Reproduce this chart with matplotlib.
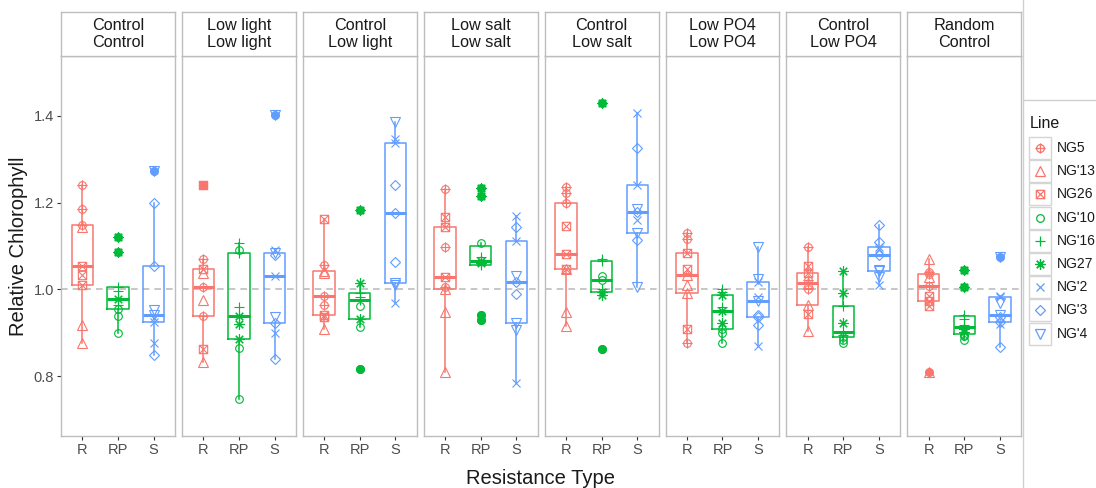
import matplotlib
matplotlib.use("Agg")
import matplotlib.pyplot as plt
from matplotlib.path import Path
from matplotlib.patches import Rectangle
from matplotlib import cbook
import numpy as np

plt.rcParams["font.family"] = ["Liberation Sans", "DejaVu Sans"]

# ---- data -----------------------------------------------------------------
FACETS = ["Control\nControl", "Low light\nLow light", "Control\nLow light",
          "Low salt\nLow salt", "Control\nLow salt", "Low PO4\nLow PO4",
          "Control\nLow PO4", "Random\nControl"]
TYPES = ["R", "RP", "S"]
LINES = ["NG5", "NG'13", "NG26", "NG'10", "NG'16", "NG27", "NG'2", "NG'3", "NG'4"]
LINE_TYPE = ["R", "R", "R", "RP", "RP", "RP", "S", "S", "S"]

# one list per line, one sub-list per facet (same order as FACETS)
NG5 = [[1.240, 1.184, 1.148], [1.069, 1.005, 0.939], [1.056, 0.985, 0.965],
       [1.230, 1.098, 1.006], [1.236, 1.221, 1.198], [1.129, 1.117, 0.876],
       [1.097, 1.021, 1.000], [1.041, 1.035, 1.008]]
NG13 = [[1.144, 0.918, 0.876], [1.037, 0.975, 0.834], [1.042, 1.038, 0.908],
        [1.000, 0.949, 0.811], [1.046, 0.949, 0.916], [1.033, 1.010, 0.993],
        [1.014, 0.964, 0.904], [1.069, 1.029, 0.811]]
NG26 = [[1.054, 1.033, 1.010], [1.240, 1.048, 0.863], [1.161, 0.942, 0.937],
        [1.167, 1.144, 1.028], [1.146, 1.081, 1.048], [1.084, 1.048, 0.908],
        [1.054, 1.038, 0.943], [0.985, 0.974, 0.962]]
NG10 = [[0.954, 0.939, 0.899], [1.090, 0.866, 0.747], [0.962, 0.914, 0.818],
        [1.108, 0.941, 0.930], [1.030, 1.021, 0.864], [0.908, 0.899, 0.876],
        [0.890, 0.884, 0.876], [0.896, 0.893, 0.884]]
NG16 = [[1.005, 0.997, 0.964], [1.106, 1.083, 0.960], [0.991, 0.983, 0.975],
        [1.075, 1.066, 1.056], [1.070, 1.066, 1.000], [1.000, 0.995, 0.960],
        [0.962, 0.903, 0.895], [0.941, 0.933, 0.918]]
NG27 = [[1.121, 1.087, 0.979], [0.939, 0.920, 0.885], [1.182, 1.016, 0.933],
        [1.234, 1.215, 1.066, 1.060], [1.428, 0.995, 0.987], [0.987, 0.950, 0.922],
        [1.043, 0.991, 0.924], [1.044, 1.006, 0.910, 0.903]]
NG2 = [[0.935, 0.926, 0.876], [1.090, 1.031, 0.899], [1.347, 1.336, 0.968],
       [1.169, 1.112, 0.784], [1.405, 1.240, 1.159], [1.018, 0.983, 0.870],
       [1.098, 1.092, 1.010], [0.985, 0.982, 0.920]]
NG3 = [[1.198, 1.054, 0.849], [1.080, 0.922, 0.841], [1.240, 1.175, 1.064],
       [1.144, 1.018, 0.989], [1.326, 1.179, 1.113], [0.941, 0.937, 0.918],
       [1.148, 1.110, 1.079], [0.937, 0.926, 0.868]]
NG4 = [[1.273, 0.952, 0.941], [1.401, 1.084, 0.937], [1.385, 1.016, 1.010],
       [1.031, 0.922, 0.907], [1.184, 1.129, 1.006], [1.097, 1.025, 0.974],
       [1.044, 1.043, 1.029], [1.075, 0.968, 0.941]]
SERIES = [NG5, NG13, NG26, NG10, NG16, NG27, NG2, NG3, NG4]

Y_TICKS = [0.8, 1.0, 1.2, 1.4]

# ---- style ----------------------------------------------------------------
TYPE_COLOR = {"R": "#F8766D", "RP": "#00BA38", "S": "#619CFF"}
BORDER = "#BDBDBD"
INK = "#333333"


def _seg(a, b):
    return Path([a, b], [Path.MOVETO, Path.LINETO])


CIRC_PLUS = Path.make_compound_path(Path.unit_circle(),
                                    _seg((-1.35, 0), (1.35, 0)),
                                    _seg((0, -1.35), (0, 1.35)))
SQ_CROSS = Path.make_compound_path(
    Path([(-1, -1), (1, -1), (1, 1), (-1, 1), (-1, -1)],
         [Path.MOVETO, Path.LINETO, Path.LINETO, Path.LINETO, Path.CLOSEPOLY]),
    _seg((-1, -1), (1, 1)), _seg((-1, 1), (1, -1)))

# marker, size (pt)
SHAPES = [(CIRC_PLUS, 7.5), ("^", 6.5), (SQ_CROSS, 6.0), ("o", 5.5), ("+", 7.5),
          ((8, 2, 0), 7.5), ("x", 5.5), ("D", 5.0), ("v", 6.5)]

W, H = 1096, 488
fig = plt.figure(figsize=(W / 100, H / 100), dpi=100)


def px_rect(x0, y0, w, h):
    return [x0 / W, 1 - (y0 + h) / H, w / W, h / H]


PANEL_TOP, PANEL_BOT = 56, 436
STRIP_TOP = 12
PANEL_W, PANEL_STEP, PANEL_X0 = 114, 120.9, 61
YLIM = (0.663, 1.537)

for i, facet in enumerate(FACETS):
    left = PANEL_X0 + i * PANEL_STEP
    ax = fig.add_axes(px_rect(left, PANEL_TOP, PANEL_W, PANEL_BOT - PANEL_TOP))
    ax.axhline(1.0, color="#BEBEBE", lw=1.2, ls=(0, (4, 3)), zorder=1)
    for j, t in enumerate(TYPES):
        col = TYPE_COLOR[t]
        idx = [k for k, lt in enumerate(LINE_TYPE) if lt == t]
        vals = np.concatenate([SERIES[k][i] for k in idx])
        ax.boxplot([vals], positions=[j + 1], widths=0.6, whis=1.5,
                   showcaps=False, showfliers=False, manage_ticks=False,
                   boxprops=dict(color=col, lw=1.1),
                   whiskerprops=dict(color=col, lw=1.1),
                   medianprops=dict(color=col, lw=2.2), zorder=2)
        fl = cbook.boxplot_stats(vals)[0]["fliers"]
        ax.plot([j + 1] * len(fl), fl, "o", color=col, ms=5.5, mec=col, zorder=3)
        for k in idx:
            m, ms = SHAPES[k]
            ax.plot([j + 1] * len(SERIES[k][i]), SERIES[k][i], ls="none",
                    marker=m, ms=ms, mfc="none", mec=col, mew=0.8, zorder=4)
    ax.set_xlim(0.4, 3.6)
    ax.set_ylim(*YLIM)
    ax.set_xticks([1, 2, 3])
    ax.set_xticklabels(TYPES)
    if i == 0:
        ax.set_yticks(Y_TICKS)
        ax.set_yticklabels([f"{v:.1f}" for v in Y_TICKS])
    else:
        ax.set_yticks([])
    ax.tick_params(length=3, width=0.8, color=INK, labelsize=10.5,
                   labelcolor="#4D4D4D", pad=2)
    for s in ax.spines.values():
        s.set_color(BORDER)
        s.set_linewidth(1.0)

    st = fig.add_axes(px_rect(left, STRIP_TOP, PANEL_W, PANEL_TOP - STRIP_TOP))
    st.set_xticks([])
    st.set_yticks([])
    for s in st.spines.values():
        s.set_color(BORDER)
        s.set_linewidth(1.0)
    st.text(0.5, 0.5, facet, ha="center", va="center", fontsize=11.7,
            color="#1A1A1A", linespacing=1.15, transform=st.transAxes)

fig.text(541 / W, 1 - 478 / H, "Resistance Type", ha="center", va="center",
         fontsize=14.5, color="#1A1A1A")
fig.text(19 / W, 1 - 246 / H, "Relative Chlorophyll", ha="center", va="center",
         rotation=90, fontsize=14.5, color="#1A1A1A")

# ---- legend, drawn in pixel space -----------------------------------------
lg = fig.add_axes([0, 0, 1, 1])
lg.set_xlim(0, W)
lg.set_ylim(H, 0)
lg.axis("off")
lg.plot([1023, 1023], [0, H], color="#D0D0D0", lw=1.0)
lg.plot([1024, W], [100, 100], color="#D0D0D0", lw=1.0)
lg.text(1030, 124, "Line", ha="left", va="center", fontsize=11.5, color="#1A1A1A")
for k, name in enumerate(LINES):
    y = 148 + k * 23.2
    lg.add_patch(Rectangle((1029, y - 11), 22, 22, facecolor="white",
                           edgecolor="#D5D5D5", lw=1.0))
    m, ms = SHAPES[k]
    lg.plot([1040], [y], ls="none", marker=m, ms=ms, mfc="none",
            mec=TYPE_COLOR[LINE_TYPE[k]], mew=0.9)
    lg.text(1057, y, name, ha="left", va="center", fontsize=10, color="#1A1A1A")

fig.savefig("out.png", dpi=100)
